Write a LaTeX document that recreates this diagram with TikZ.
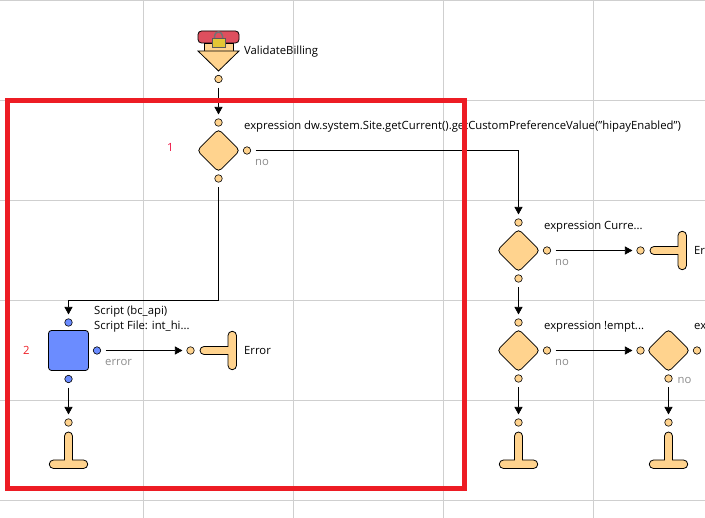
\documentclass[tikz,border=0pt]{standalone}
\usepackage{fontspec}
\setmainfont{Open Sans}
\usepackage{tikz}
\usetikzlibrary{arrows.meta,shapes.geometric}
\definecolor{nodeorange}{HTML}{FFD38E}
\definecolor{nodeblue}{HTML}{6B8CFF}
\definecolor{gridgray}{HTML}{CFCFCF}
\definecolor{markred}{HTML}{ED1C24}
\definecolor{startred}{HTML}{DE4F5E}
\def\stopdown{arc[start angle=180,end angle=0,radius=4pt] -- ++(0,24) -- ++(11,0) arc[start angle=90,end angle=-90,radius=4.25pt] -- ++(-30,0) arc[start angle=270,end angle=90,radius=4.25pt] -- ++(11,0) -- cycle}
\def\stopright{arc[start angle=90,end angle=270,radius=4pt] -- ++(24,0) -- ++(0,11) arc[start angle=180,end angle=360,radius=4.25pt] -- ++(0,-30) arc[start angle=0,end angle=180,radius=4.25pt] -- ++(0,11) -- cycle}
\tikzset{
  port/.style={circle,draw=black,fill=nodeorange,line width=0.6pt,minimum size=7.5pt,inner sep=0pt},
  blueport/.style={port,fill=nodeblue},
  decision/.style={diamond,draw=black,fill=nodeorange,line width=0.8pt,minimum size=43pt,inner sep=0pt,rounded corners=4pt},
  scriptbox/.style={rectangle,draw=black,fill=nodeblue,line width=0.8pt,minimum size=40pt,inner sep=0pt,rounded corners=3pt},
  stopshape/.style={draw=black,fill=nodeorange,line width=0.8pt},
  flow/.style={draw=black,line width=0.7pt,-{Triangle[length=7.5pt,width=8pt]},shorten <=4.5pt,shorten >=4pt},
  txt/.style={anchor=base west,inner sep=0pt,font=\fontsize{11.3}{13}\selectfont,text=black},
  branch/.style={txt,text=black!45},
}
\begin{document}
\begin{tikzpicture}[x=1pt,y=-1pt]
\useasboundingbox (0,0) rectangle (705,518);
% grid
\foreach \gx in {143.5,293.5,443.5,593.5}
  \draw[gridgray,line width=1pt] (\gx,0) -- (\gx,518);
\foreach \gy in {0.5,100.5,200.5,300.5,400.5,500.5}
  \draw[gridgray,line width=1pt] (0,\gy) -- (705,\gy);
% start node
\draw[stopshape] (204,43) rectangle (233,52);
\draw[stopshape,fill=startred,rounded corners=3.5pt] (198,31) rectangle (239,43);
\draw[stopshape] (198,51) -- (239,51) -- (218.5,71) -- cycle;
\draw[black!55,line width=1.5pt] (214.5,38) -- (214.5,36) arc[start angle=180,end angle=0,radius=4pt] -- (222.5,38);
\draw[black!65,fill=yellow!55!brown,line width=0.6pt] (212,38) rectangle (225,47);
\node[txt] (startlabel) at (244,55) {ValidateBilling};
\node[port] (startout) at (218.5,79) {};
% first decision
\node[port] (d1in) at (218.5,122.5) {};
\node[decision] (d1) at (218.5,150.5) {};
\node[port] (d1no) at (247,150.5) {};
\node[port] (d1out) at (218.5,178.5) {};
\node[txt] (d1text) at (244,130) {expression dw.system.Site.getCurrent().getCustomPreferenceValue("hipayEnabled")};
\node[branch] (d1nolabel) at (255,166) {no};
\node[txt,text=magenta!30!red] (num1) at (167,152) {1};
% script node
\node[blueport] (scriptin) at (68.5,322.5) {};
\node[scriptbox] (script) at (68.5,350.5) {};
\node[blueport] (scripterr) at (97,350.5) {};
\node[blueport] (scriptout) at (68.5,379) {};
\node[txt] (scripttext1) at (94,315) {Script (bc\_api)};
\node[txt] (scripttext2) at (94,330) {Script File: int\_hi...};
\node[branch] (scripterrlabel) at (105,366) {error};
\node[txt,text=markred] (num2) at (23,355) {2};
% error stop
\node[port] (errin) at (190.5,350.5) {};
\draw[stopshape] (204,346.5) \stopright;
\node[txt] (errlabel) at (244,355) {Error};
% bottom stop
\node[port] (endin) at (68.5,422.5) {};
\draw[stopshape] (64.5,436) \stopdown;
% second decision
\node[port] (d2in) at (518.5,222.5) {};
\node[decision] (d2) at (518.5,250.5) {};
\node[port] (d2no) at (547,250.5) {};
\node[port] (d2out) at (518.5,278.5) {};
\node[txt] (d2text) at (544,230) {expression Curre...};
\node[branch] (d2nolabel) at (555,266) {no};
\node[port] (err2in) at (640.5,250.5) {};
\draw[stopshape] (654,246.5) \stopright;
\node[txt] (err2label) at (694,255) {Er};
% third decision
\node[port] (d3in) at (518.5,322.5) {};
\node[decision] (d3) at (518.5,350.5) {};
\node[port] (d3no) at (547,350.5) {};
\node[port] (d3out) at (518.5,378.5) {};
\node[txt] (d3text) at (544,330) {expression !empt...};
\node[branch] (d3nolabel) at (555,366) {no};
\node[port] (end3in) at (518.5,422.5) {};
\draw[stopshape] (514.5,436) \stopdown;
% fourth decision
\node[port] (d4in) at (640.5,350.5) {};
\node[decision] (d4) at (668.5,350.5) {};
\node[port] (d4no) at (697,350.5) {};
\node[port] (d4out) at (668.5,378.5) {};
\node[txt] (d4text) at (694,330) {ex};
\node[branch] (d4nolabel) at (677.5,384) {no};
\node[port] (end4in) at (668.5,422.5) {};
\draw[stopshape] (664.5,436) \stopdown;
% connectors
\draw[flow] (startout) -- (d1in);
\draw[flow] (d1no) -| (d2in);
\draw[flow] (d1out) |- (68.5,300.5) -- (scriptin);
\draw[flow] (scripterr) -- (errin);
\draw[flow] (scriptout) -- (endin);
\draw[flow] (d2no) -- (err2in);
\draw[flow] (d2out) -- (d3in);
\draw[flow] (d3no) -- (d4in);
\draw[flow] (d3out) -- (end3in);
\draw[flow] (d4out) -- (end4in);
% red mark
\draw[markred,line width=5pt] (7.5,100.5) rectangle (464.5,488.5);
\end{tikzpicture}
\end{document}
